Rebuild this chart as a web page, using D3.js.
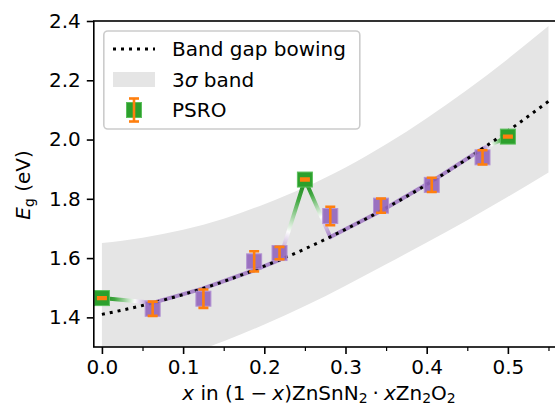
<!DOCTYPE html>
<html>
<head>
<meta charset="utf-8">
<script src="https://cdn.jsdelivr.net/npm/d3@7"></script>
<style>
  body { margin: 0; background: #fff; }
  svg { display: block; font-family: "DejaVu Sans", sans-serif; }
</style>
</head>
<body>
<script>
// values
const fitX = [0, 0.05, 0.1, 0.15, 0.2, 0.25, 0.3, 0.35, 0.4, 0.45, 0.5, 0.55];
const fitEg = [1.410, 1.440, 1.477, 1.521, 1.573, 1.631, 1.697, 1.769, 1.848, 1.935, 2.029, 2.129];
const bandUpper = [1.651, 1.669, 1.696, 1.733, 1.782, 1.839, 1.906, 1.984, 2.072, 2.168, 2.272, 2.383];
const bandLower = [1.185, 1.225, 1.270, 1.319, 1.376, 1.438, 1.507, 1.579, 1.653, 1.728, 1.807, 1.889];

const sqsX = [0.0625, 0.125, 0.1875, 0.21875, 0.28125, 0.34375, 0.40625, 0.46875];
const sqsEg = [1.429, 1.463, 1.589, 1.617, 1.742, 1.777, 1.847, 1.940];
const sqsErr = [0.024, 0.031, 0.034, 0.021, 0.031, 0.024, 0.024, 0.024];
const sqsFitEg = [1.449, 1.498, 1.559, 1.594, 1.671, 1.759, 1.859, 1.969];

const psroX = [0, 0.25, 0.5];
const psroEg = [1.465, 1.865, 2.010];
const psroErr = [0.003, 0.003, 0.003];

const xTicks = [0, 0.1, 0.2, 0.3, 0.4, 0.5];
const xMinorTicks = [0.05, 0.15, 0.25, 0.35, 0.45, 0.55];
const yTicks = [1.4, 1.6, 1.8, 2.0, 2.2, 2.4];

const legendLabels = ['Band gap bowing', '3σ band', 'PSRO'];

const W = 555, H = 409;
const PLOT = { left: 93.8, right: 556.6, top: 21, bottom: 347 };
const GREEN = '#2ca02c', PURPLE = '#9467bd', ORANGE = '#ff7f0e';
const FONT = 20;

const svg = d3.select('body').append('svg')
    .attr('width', W)
    .attr('height', H);

const x = d3.scaleLinear().domain([-0.01, 0.56]).range([PLOT.left, PLOT.right]);
const y = d3.scaleLinear().domain([1.3, 2.4]).range([PLOT.bottom, PLOT.top]);

const defs = svg.append('defs');
defs.append('clipPath').attr('id', 'plotClip')
  .append('rect')
    .attr('x', PLOT.left).attr('y', PLOT.top)
    .attr('width', PLOT.right - PLOT.left)
    .attr('height', PLOT.bottom - PLOT.top);

const plot = svg.append('g').attr('clip-path', 'url(#plotClip)');

// 3 sigma band
const bandData = fitX.map((v, i) => ({ x: v, lo: bandLower[i], hi: bandUpper[i] }));
plot.append('path')
    .datum(bandData)
    .attr('fill', '#e5e5e5')
    .attr('d', d3.area().curve(d3.curveMonotoneX)
        .x(d => x(d.x)).y0(d => y(d.lo)).y1(d => y(d.hi)));

// line joining PSRO values and fitted SQS values, colour blended per segment
const chain = sqsX.map((v, i) => ({ x: v, eg: sqsFitEg[i], kind: 'sqs' }))
    .concat(psroX.map((v, i) => ({ x: v, eg: psroEg[i], kind: 'psro' })))
    .sort((a, b) => a.x - b.x);

const segs = d3.pairs(chain);
segs.forEach(([a, b], i) => {
    const x1 = x(a.x), y1 = y(a.eg), x2 = x(b.x), y2 = y(b.eg);
    let stroke = PURPLE, op = 0.75;
    if (a.kind !== b.kind) {
        const g = a.kind === 'psro' ? a : b;
        const p = a.kind === 'psro' ? b : a;
        const grad = defs.append('linearGradient')
            .attr('id', 'seg' + i)
            .attr('gradientUnits', 'userSpaceOnUse')
            .attr('x1', x(g.x)).attr('y1', y(g.eg))
            .attr('x2', x(p.x)).attr('y2', y(p.eg));
        grad.append('stop').attr('offset', 0).attr('stop-color', '#1f801f');
        grad.append('stop').attr('offset', 0.25).attr('stop-color', GREEN).attr('stop-opacity', 0.9);
        grad.append('stop').attr('offset', 0.65).attr('stop-color', '#ffffff').attr('stop-opacity', 0.9);
        grad.append('stop').attr('offset', 1).attr('stop-color', PURPLE).attr('stop-opacity', 0.8);
        stroke = 'url(#seg' + i + ')';
        op = 1;
    }
    plot.append('line')
        .attr('x1', x1).attr('y1', y1).attr('x2', x2).attr('y2', y2)
        .attr('stroke', stroke)
        .attr('stroke-opacity', op)
        .attr('stroke-width', 4)
        .attr('stroke-linecap', 'round');
});

// bowing curve
plot.append('path')
    .datum(fitX.map((v, i) => [v, fitEg[i]]))
    .attr('fill', 'none')
    .attr('stroke', '#000')
    .attr('stroke-width', 3)
    .attr('stroke-dasharray', '3,5')
    .attr('d', d3.line().curve(d3.curveMonotoneX).x(d => x(d[0])).y(d => y(d[1])));

const MS = 15;
function errbar(g, cx, cy0, cy1) {
    g.append('line').attr('x1', cx).attr('x2', cx).attr('y1', cy0).attr('y2', cy1)
        .attr('stroke', ORANGE).attr('stroke-width', 2.6);
    [cy0, cy1].forEach(cy => g.append('line')
        .attr('x1', cx - 5).attr('x2', cx + 5).attr('y1', cy).attr('y2', cy)
        .attr('stroke', ORANGE).attr('stroke-width', 2.6));
}

// SQS points
sqsX.forEach((v, i) => {
    plot.append('rect')
        .attr('x', x(v) - MS / 2).attr('y', y(sqsEg[i]) - MS / 2)
        .attr('width', MS).attr('height', MS)
        .attr('fill', PURPLE).attr('fill-opacity', 0.92)
        .attr('stroke', '#b393d3').attr('stroke-width', 1);
    errbar(plot, x(v), y(sqsEg[i] - sqsErr[i]), y(sqsEg[i] + sqsErr[i]));
});

// PSRO points
psroX.forEach((v, i) => {
    plot.append('rect')
        .attr('x', x(v) - MS / 2).attr('y', y(psroEg[i]) - MS / 2)
        .attr('width', MS).attr('height', MS)
        .attr('fill', GREEN)
        .attr('stroke', '#5cbf5c').attr('stroke-width', 1);
    errbar(plot, x(v), y(psroEg[i] - psroErr[i]), y(psroEg[i] + psroErr[i]));
});

// axes
const xAxis = svg.append('g')
    .attr('transform', `translate(0,${PLOT.bottom})`)
    .call(d3.axisBottom(x).tickValues(xTicks).tickFormat(d3.format('.1f'))
        .tickSize(7).tickPadding(6));
const xMinor = svg.append('g')
    .attr('transform', `translate(0,${PLOT.bottom})`)
    .call(d3.axisBottom(x).tickValues(xMinorTicks).tickFormat('').tickSize(4));
const yAxis = svg.append('g')
    .attr('transform', `translate(${PLOT.left},0)`)
    .call(d3.axisLeft(y).tickValues(yTicks).tickFormat(d3.format('.1f'))
        .tickSize(7).tickPadding(6));

[xAxis, xMinor, yAxis].forEach(g => {
    g.select('.domain').remove();
    g.selectAll('text').attr('font-size', FONT).attr('font-family', '"DejaVu Sans"').attr('fill', '#000');
});
xAxis.selectAll('line').attr('stroke-width', 1.6);
yAxis.selectAll('line').attr('stroke-width', 1.6);
xMinor.selectAll('line').attr('stroke-width', 1.2);

svg.append('rect')
    .attr('x', PLOT.left).attr('y', PLOT.top)
    .attr('width', PLOT.right - PLOT.left)
    .attr('height', PLOT.bottom - PLOT.top)
    .attr('fill', 'none').attr('stroke', '#000').attr('stroke-width', 1.6);

// axis labels
const xl = svg.append('text')
    .attr('x', 319).attr('y', 400)
    .attr('text-anchor', 'middle')
    .attr('font-size', FONT);
const parts = [
    ['x', 'i'], [' in (1\u2005', ''], ['−', ''], ['\u2005', ''], ['x', 'i'], [')ZnSnN', ''], ['2', 's'],
    ['\u2005·\u2005', ''], ['x', 'i'], ['Zn', ''], ['2', 's'], ['O', ''], ['2', 's']
];
let shifted = false;
parts.forEach(([t, k]) => {
    const ts = xl.append('tspan').text(t);
    if (k === 'i') ts.attr('font-style', 'italic');
    if (k === 's') { ts.attr('font-size', 14).attr('dy', 3); shifted = true; }
    else if (shifted) { ts.attr('dy', -3); shifted = false; }
});

const yl = svg.append('text')
    .attr('transform', 'translate(29.5,185) rotate(-90)')
    .attr('text-anchor', 'middle')
    .attr('font-size', FONT);
yl.append('tspan').attr('font-style', 'italic').text('E');
yl.append('tspan').attr('font-size', 14).attr('dy', 4).text('g');
yl.append('tspan').attr('dy', -4).text(' (eV)');

// legend
const lg = svg.append('g');
lg.append('rect')
    .attr('x', 103.8).attr('y', 31)
    .attr('width', 256).attr('height', 98)
    .attr('rx', 4)
    .attr('fill', '#fff').attr('fill-opacity', 0.8)
    .attr('stroke', '#cccccc').attr('stroke-width', 1.6);
const rowY = [49, 79.5, 110];
lg.append('line')
    .attr('x1', 113).attr('x2', 155).attr('y1', rowY[0]).attr('y2', rowY[0])
    .attr('stroke', '#000').attr('stroke-width', 3).attr('stroke-dasharray', '3,5');
lg.append('rect')
    .attr('x', 113).attr('y', rowY[1] - 7.5).attr('width', 42).attr('height', 15)
    .attr('fill', '#e5e5e5');
lg.append('rect')
    .attr('x', 134 - MS / 2).attr('y', rowY[2] - MS / 2)
    .attr('width', MS).attr('height', MS)
    .attr('fill', GREEN).attr('stroke', '#5cbf5c').attr('stroke-width', 1);
errbar(lg, 134, rowY[2] - 11.5, rowY[2] + 11.5);
lg.selectAll('text.lab')
    .data(legendLabels)
    .enter().append('text')
    .attr('class', 'lab')
    .attr('x', 172)
    .attr('y', (d, i) => rowY[i] + 7)
    .attr('font-size', FONT)
    .each(function (d) {
        const t = d3.select(this);
        if (d.includes('σ')) {
            t.append('tspan').text('3');
            t.append('tspan').attr('font-style', 'italic').text('σ');
            t.append('tspan').text(' band');
        } else {
            t.text(d);
        }
    });
</script>
</body>
</html>
